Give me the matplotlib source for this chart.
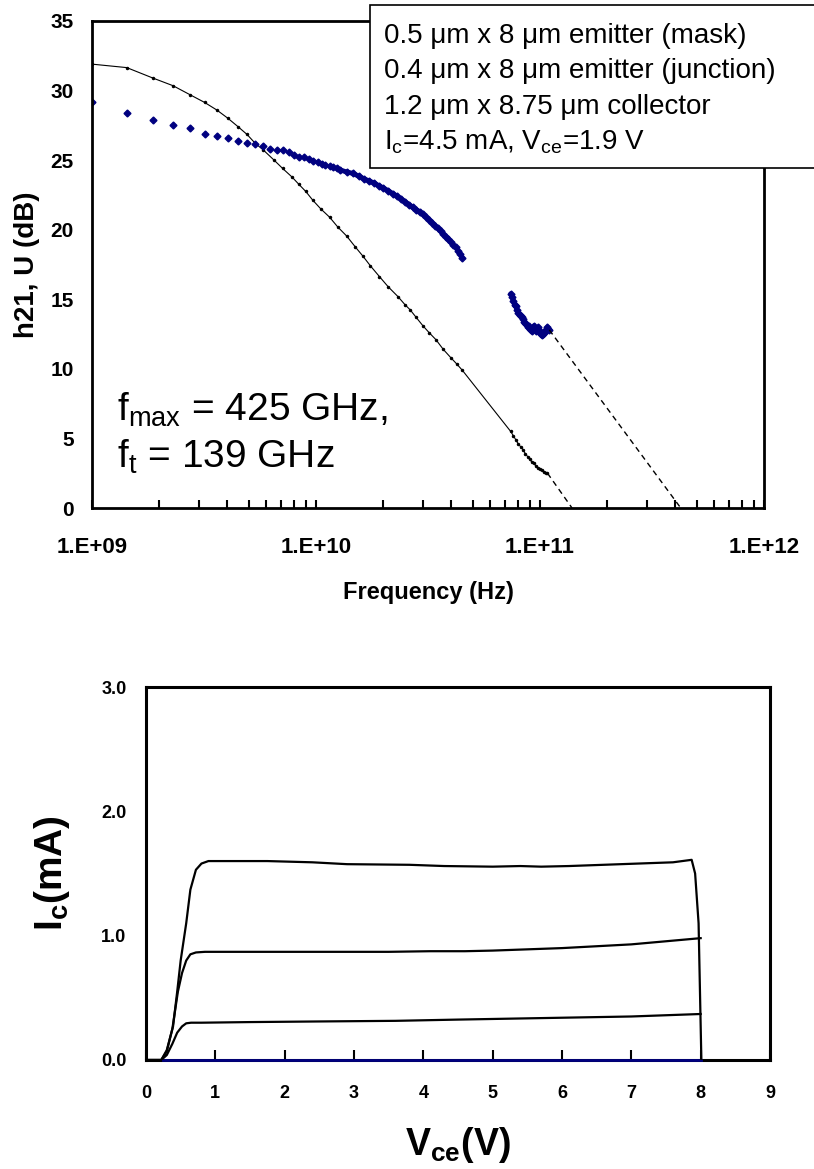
import matplotlib
matplotlib.use("Agg")
import matplotlib.pyplot as plt
from matplotlib.patches import Rectangle
import numpy as np

plt.rcParams['font.family'] = ['Liberation Sans', 'DejaVu Sans']
plt.rcParams['mathtext.fontset'] = 'custom'
plt.rcParams['mathtext.rm'] = 'Liberation Sans'
plt.rcParams['mathtext.it'] = 'Liberation Sans:italic'
plt.rcParams['mathtext.bf'] = 'Liberation Sans:bold'

# ---- RF data (frequency in GHz, gain in dB) ----
u_freq = [1.0, 1.43, 1.87, 2.30, 2.74, 3.18, 3.61, 4.05, 4.49, 4.92, 5.36, 5.8,
          6.23, 6.67, 7.1, 7.54, 7.98, 8.42, 8.85, 9.29, 9.73, 10.2, 10.6, 11.0,
          11.5, 11.9, 12.4, 12.8, 13.7, 14.6, 15.5, 16.4, 17.3, 18.2, 19.1, 20.0,
          21.0, 22.0, 23.0, 24.0, 25.0, 26.0, 27.0, 28.0, 29.0, 30.0, 31.0, 32.0,
          33.0, 34.0, 35.0, 36.0, 37.0, 38.0, 39.0, 40.0, 41.0, 42.0, 43.0, 44.0, 45.0]
u_db = [29.2, 28.4, 27.9, 27.5, 27.3, 26.9, 26.7, 26.6, 26.4, 26.2, 26.15, 26.0,
        25.8, 25.75, 25.7, 25.55, 25.35, 25.25, 25.2, 25.1, 24.95, 24.85, 24.75, 24.68,
        24.6, 24.5, 24.4, 24.3, 24.15, 24.05, 23.85, 23.65, 23.5, 23.35, 23.15, 23.0,
        22.8, 22.6, 22.4, 22.2, 22.0, 21.8, 21.6, 21.45, 21.3, 21.1, 20.9, 20.7,
        20.5, 20.3, 20.1, 19.9, 19.7, 19.5, 19.3, 19.1, 18.9, 18.75, 18.5, 18.25, 18.0]

u_w_freq = [74, 75, 76, 77, 78, 79, 80, 81, 82, 83, 84, 85, 86, 87, 88, 89, 90, 91,
            92, 93, 94, 95, 96, 97, 98, 99, 100, 101, 102, 103, 104, 105, 106, 107,
            108, 109, 110]
u_w_db = [15.4, 15.2, 14.9, 14.6, 14.5, 14.2, 14.0, 13.9, 13.8, 13.7, 13.6, 13.4,
          13.3, 13.2, 13.0, 13.1, 12.9, 12.8, 12.7, 12.9, 13.1, 12.9, 12.7, 12.8,
          13.0, 12.8, 12.6, 12.5, 12.4, 12.5, 12.6, 12.7, 12.8, 12.9, 13.0, 12.9, 12.8]

h21_freq = [1.0, 1.43, 1.87, 2.30, 2.74, 3.18, 3.61, 4.05, 4.49, 4.92, 5.36, 5.8,
            6.5, 7.1, 7.8, 8.4, 9.0, 9.7, 10.5, 11.5, 12.5, 13.7, 15.0, 16.2, 17.5,
            19.2, 21.0, 23.2, 25.0, 26.3, 28.0, 30.0, 32.0, 34.3, 37.0, 40.0, 42.5, 45.0,
            74, 76, 78, 80, 82, 84, 86, 88, 90, 92, 94, 96, 98, 100, 102, 104, 106, 108]
h21_db = [31.9, 31.65, 30.9, 30.35, 29.7, 29.15, 28.6, 28.0, 27.4, 26.85, 26.2, 25.75,
          25.0, 24.4, 23.8, 23.25, 22.75, 22.1, 21.5, 20.9, 20.2, 19.55, 18.75, 18.1, 17.4,
          16.63, 15.9, 15.2, 14.6, 14.25, 13.7, 13.1, 12.6, 12.1, 11.4, 10.8, 10.35, 9.9,
          5.5, 5.2, 4.9, 4.6, 4.4, 4.2, 3.9, 3.7, 3.5, 3.3, 3.2, 3.0, 2.9, 2.8, 2.7, 2.6, 2.55, 2.5]

ft_ghz = 139
fmax_ghz = 425

# ---- DC data (Vce in V, Ic in mA) ----
vce_1 = [0, 0.22, 0.30, 0.38, 0.45, 0.52, 0.58, 0.65, 0.8, 1.5, 2.5, 3.6, 4.5, 5.0, 6.0, 7.0, 7.5, 8.0]
ic_1 = [0, 0, 0.04, 0.13, 0.22, 0.27, 0.295, 0.30, 0.30, 0.305, 0.31, 0.315, 0.325, 0.33, 0.34, 0.35, 0.36, 0.37]
vce_2 = [0, 0.22, 0.30, 0.38, 0.46, 0.52, 0.58, 0.64, 0.72, 0.85, 1.5, 2.5, 3.5, 4.1, 4.6, 5.0,
         5.5, 6.0, 6.5, 7.0, 7.5, 8.0]
ic_2 = [0, 0, 0.07, 0.25, 0.55, 0.70, 0.80, 0.85, 0.865, 0.87, 0.87, 0.87, 0.87, 0.875, 0.875, 0.88,
        0.89, 0.90, 0.915, 0.93, 0.955, 0.98]
vce_3 = [0, 0.22, 0.30, 0.39, 0.45, 0.50, 0.58, 0.64, 0.72, 0.80, 0.90, 1.0, 1.75, 2.4, 2.9, 3.8,
         4.3, 5.0, 5.4, 5.7, 6.1, 6.6, 7.1, 7.6, 7.87, 7.92, 7.97, 8.01]
ic_3 = [0, 0, 0.08, 0.27, 0.55, 0.80, 1.10, 1.37, 1.53, 1.58, 1.60, 1.60, 1.60, 1.59, 1.575, 1.57,
        1.56, 1.555, 1.56, 1.555, 1.56, 1.57, 1.58, 1.59, 1.61, 1.5, 1.1, 0.0]
vce_0 = [0.25, 8.0]
ic_0 = [0, 0]

navy = '#000080'
W, H = 814, 1169
fig = plt.figure(figsize=(W / 100, H / 100), dpi=100)


def px(x, y):
    # pixel position (from top-left) -> figure fraction
    return x / W, 1 - y / H


# ---------------- top: h21 / U vs frequency ----------------
ax1 = fig.add_axes([92 / W, 1 - 508 / H, 672 / W, 487 / H])
hz = lambda g: np.array(g) * 1e9
uf = hz(u_freq)
dense = uf >= 12e9
ax1.plot(hz(h21_freq), h21_db, color='black', lw=0.8, marker='.', ms=3)
ax1.plot(uf, u_db, ls='none', marker='D', ms=3.5, color=navy, mec=navy)
ax1.plot(uf[dense], np.array(u_db)[dense], color=navy, lw=3.5, solid_capstyle='round')
ax1.plot(hz(u_w_freq), u_w_db, color=navy, lw=3.5, marker='D', ms=3.5, solid_capstyle='round')
ax1.plot(hz([h21_freq[-1], ft_ghz]), [h21_db[-1], 0], color='black', lw=1, ls=(0, (4, 3)))
ax1.plot(hz([u_w_freq[-1], fmax_ghz]), [u_w_db[-1], 0], color='black', lw=1, ls=(0, (4, 3)))

ax1.set_xscale('log')
ax1.set_xlim(1e9, 1e12)
ax1.set_ylim(0, 35)
ax1.set_xticks([1e9, 1e10, 1e11, 1e12], ['1.E+09', '1.E+10', '1.E+11', '1.E+12'])
ax1.set_yticks(range(0, 36, 5))
for lab in ax1.get_xticklabels() + ax1.get_yticklabels():
    lab.set_fontweight('bold')
ax1.tick_params(axis='x', which='both', direction='in', length=6, width=1.5,
                labelsize=16, pad=21, top=False)
ax1.tick_params(axis='y', direction='in', length=0, labelsize=15, pad=13)
for s in ax1.spines.values():
    s.set_linewidth(2)
ax1.set_xlabel('Frequency (Hz)', fontsize=17, fontweight='bold')
ax1.xaxis.set_label_coords(0.5, -0.15)
ax1.set_ylabel('h21, U (dB)', fontsize=20, fontweight='bold')
ax1.yaxis.set_label_coords(-0.078, 0.5)

fig.text(*px(117, 421), r'f$_{\mathrm{max}}$ = 425 GHz,', fontsize=28, va='baseline')
fig.text(*px(117, 468), r'f$_{\mathrm{t}}$ = 139 GHz', fontsize=28, va='baseline')

# info box (runs off the right edge)
fig.add_artist(Rectangle(px(370, 168), 500 / W, 163 / H, transform=fig.transFigure,
                         facecolor='white', edgecolor='black', lw=1.2, zorder=5))
info = ['0.5 μm x 8 μm emitter (mask)',
        '0.4 μm x 8 μm emitter (junction)',
        '1.2 μm x 8.75 μm collector',
        r'I$_{\mathrm{c}}$=4.5 mA, V$_{\mathrm{ce}}$=1.9 V']
for i, line in enumerate(info):
    fig.text(*px(384, 43 + 35.5 * i), line, fontsize=20, va='baseline', zorder=6)

# ---------------- bottom: Ic vs Vce ----------------
ax2 = fig.add_axes([146 / W, 1 - 1060 / H, 624 / W, 373 / H])
ax2.plot(vce_0, ic_0, color=navy, lw=2, clip_on=False, zorder=3)
for v, i in [(vce_1, ic_1), (vce_2, ic_2), (vce_3, ic_3)]:
    ax2.plot(v, i, color='black', lw=1.6, zorder=4)
ax2.set_xlim(0, 9)
ax2.set_ylim(0, 3)
ax2.set_xticks(range(0, 10))
ax2.set_yticks([0, 1, 2, 3], ['0.0', '1.0', '2.0', '3.0'])
for lab in ax2.get_xticklabels() + ax2.get_yticklabels():
    lab.set_fontweight('bold')
ax2.tick_params(axis='x', direction='in', length=7, width=1.5, labelsize=13, pad=18)
ax2.tick_params(axis='y', direction='in', length=0, labelsize=13, pad=14)
for s in ax2.spines.values():
    s.set_linewidth(2.2)
ax2.set_xlabel(r'V$_{\mathbf{ce}}$(V)', fontsize=27, fontweight='bold')
ax2.xaxis.set_label_coords(0.5, -0.175)
ax2.set_ylabel(r'I$_{\mathbf{c}}$(mA)', fontsize=28, fontweight='bold')
ax2.yaxis.set_label_coords(-0.118, 0.5)

fig.savefig('out.png', dpi=100)
